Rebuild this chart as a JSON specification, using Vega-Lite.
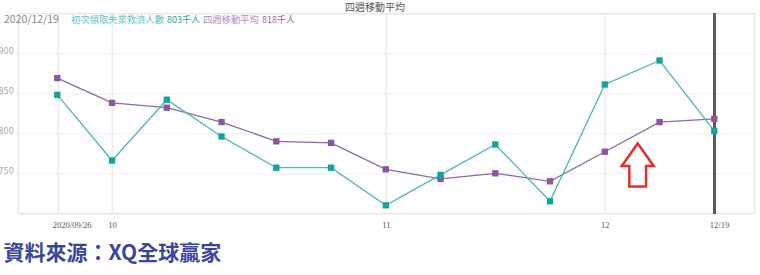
{
  "$schema": "https://vega.github.io/schema/vega-lite/v6.json",
  "width": 736.6,
  "height": 200,
  "autosize": {"type": "none"},
  "padding": {"left": 17.7, "top": 13.3, "right": 5.7, "bottom": 61.7},
  "background": "white",
  "config": {"view": {"stroke": "#dcdcdc", "strokeWidth": 1}, "font": "Noto Sans CJK TC"},
  "data": {"values": [
    {"date": "2020-09-26", "series": "avg", "value": 869},
    {"date": "2020-10-03", "series": "avg", "value": 838},
    {"date": "2020-10-10", "series": "avg", "value": 832},
    {"date": "2020-10-17", "series": "avg", "value": 814},
    {"date": "2020-10-24", "series": "avg", "value": 790},
    {"date": "2020-10-31", "series": "avg", "value": 788},
    {"date": "2020-11-07", "series": "avg", "value": 755},
    {"date": "2020-11-14", "series": "avg", "value": 743},
    {"date": "2020-11-21", "series": "avg", "value": 750},
    {"date": "2020-11-28", "series": "avg", "value": 740},
    {"date": "2020-12-05", "series": "avg", "value": 777},
    {"date": "2020-12-12", "series": "avg", "value": 814},
    {"date": "2020-12-19", "series": "avg", "value": 818},
    {"date": "2020-09-26", "series": "claims", "value": 848},
    {"date": "2020-10-03", "series": "claims", "value": 766},
    {"date": "2020-10-10", "series": "claims", "value": 842},
    {"date": "2020-10-17", "series": "claims", "value": 796},
    {"date": "2020-10-24", "series": "claims", "value": 757},
    {"date": "2020-10-31", "series": "claims", "value": 757},
    {"date": "2020-11-07", "series": "claims", "value": 710},
    {"date": "2020-11-14", "series": "claims", "value": 748},
    {"date": "2020-11-21", "series": "claims", "value": 786},
    {"date": "2020-11-28", "series": "claims", "value": 715},
    {"date": "2020-12-05", "series": "claims", "value": 861},
    {"date": "2020-12-12", "series": "claims", "value": 891},
    {"date": "2020-12-19", "series": "claims", "value": 803},
    {"title": "四週移動平均"},
    {"label": "2020/12/19"},
    {"label": "初次領取失業救濟人數"},
    {"label": "803千人"},
    {"label": "四週移動平均"},
    {"label": "818千人"},
    {"label": "arrow"}
  ]},
  "layer": [
    {
      "transform": [{"filter": "datum.series != null"}],
      "layer": [
        {
          "mark": {"type": "rule", "color": "#5a5a5a", "strokeWidth": 2.5},
          "encoding": {"x": {"datum": {"year": 2020, "month": 12, "date": 19, "utc": true}, "type": "temporal"}}
        },
        {
          "mark": {"type": "line", "strokeWidth": 1.3},
          "encoding": {
            "x": {"field": "date", "type": "temporal"},
            "y": {"field": "value", "type": "quantitative"},
            "stroke": {"field": "series", "type": "nominal", "scale": {"domain": ["avg", "claims"], "range": ["#8d6a9f", "#4cb8b0"]}, "legend": null},
            "order": {"field": "date", "type": "temporal"}
          }
        },
        {
          "mark": {"type": "point", "shape": "square", "filled": true, "size": 40, "opacity": 1},
          "encoding": {
            "x": {"field": "date", "type": "temporal"},
            "y": {"field": "value", "type": "quantitative"},
            "fill": {"field": "series", "type": "nominal", "scale": {"domain": ["avg", "claims"], "range": ["#8b56a0", "#14a39a"]}, "legend": null}
          }
        }
      ]
    },
    {
      "transform": [{"filter": "datum.title != null"}],
      "mark": {"type": "text", "align": "center", "baseline": "middle", "fontSize": 10, "color": "#555555"},
      "encoding": {"x": {"datum": {"year": 2020, "month": 11, "date": 5, "hours": 14, "minutes": 54, "utc": true}, "type": "temporal"}, "y": {"datum": 956.6, "type": "quantitative"}, "text": {"field": "title"}}
    },
    {
      "transform": [{"filter": "datum.label == '2020/12/19'"}],
      "mark": {"type": "text", "align": "left", "baseline": "middle", "fontSize": 10.5, "color": "#888888"},
      "encoding": {"x": {"datum": {"year": 2020, "month": 9, "date": 19, "hours": 4, "minutes": 26, "utc": true}, "type": "temporal"}, "y": {"datum": 941.6, "type": "quantitative"}, "text": {"field": "label"}}
    },
    {
      "transform": [{"filter": "datum.label == '初次領取失業救濟人數'"}],
      "mark": {"type": "text", "align": "left", "baseline": "middle", "fontSize": 9.3, "color": "#5cc4bd"},
      "encoding": {"x": {"datum": {"year": 2020, "month": 9, "date": 27, "hours": 18, "minutes": 3, "utc": true}, "type": "temporal"}, "y": {"datum": 941.6, "type": "quantitative"}, "text": {"field": "label"}}
    },
    {
      "transform": [{"filter": "datum.label == '803千人'"}],
      "mark": {"type": "text", "align": "left", "baseline": "middle", "fontSize": 9, "color": "#24a59c"},
      "encoding": {"x": {"datum": {"year": 2020, "month": 10, "date": 10, "hours": 0, "minutes": 37, "utc": true}, "type": "temporal"}, "y": {"datum": 941.6, "type": "quantitative"}, "text": {"field": "label"}}
    },
    {
      "transform": [{"filter": "datum.label == '四週移動平均'"}],
      "mark": {"type": "text", "align": "left", "baseline": "middle", "fontSize": 9.3, "color": "#b48ec4"},
      "encoding": {"x": {"datum": {"year": 2020, "month": 10, "date": 14, "hours": 15, "minutes": 7, "utc": true}, "type": "temporal"}, "y": {"datum": 941.6, "type": "quantitative"}, "text": {"field": "label"}}
    },
    {
      "transform": [{"filter": "datum.label == '818千人'"}],
      "mark": {"type": "text", "align": "left", "baseline": "middle", "fontSize": 9, "color": "#9464aa"},
      "encoding": {"x": {"datum": {"year": 2020, "month": 10, "date": 22, "hours": 4, "minutes": 5, "utc": true}, "type": "temporal"}, "y": {"datum": 941.6, "type": "quantitative"}, "text": {"field": "label"}}
    },
    {
      "transform": [{"filter": "datum.label == 'arrow'"}],
      "mark": {"type": "point", "shape": "M0,-1 L0.744,0.047 L0.39,0.047 L0.39,1 L-0.39,1 L-0.39,0.047 L-0.744,0.047 Z", "size": 1849, "filled": false, "fill": "white", "fillOpacity": 1, "stroke": "#e2302c", "strokeWidth": 2.5, "opacity": 1, "strokeJoin": "miter"},
      "encoding": {"x": {"datum": {"year": 2020, "month": 12, "date": 9, "hours": 5, "minutes": 0, "utc": true}, "type": "temporal"}, "y": {"datum": 760.4, "type": "quantitative"}}
    }
  ],
  "resolve": {"scale": {"x": "shared", "y": "shared"}},
  "encoding": {
    "x": {
      "type": "temporal",
      "scale": {"type": "utc", "domain": [
        {"year": 2020, "month": 9, "date": 20, "hours": 22, "minutes": 30, "utc": true},
        {"year": 2020, "month": 12, "date": 24, "hours": 2, "minutes": 45, "utc": true}
      ]},
      "axis": {
        "title": "資料來源：XQ全球贏家",
        "titleFont": "Noto Sans CJK TC", "titleFontSize": 21, "titleFontWeight": "bold", "titleColor": "#3a469c",
        "titleAlign": "left", "titleAnchor": "start", "titleX": -14.7, "titleY": 40, "titleBaseline": "middle",
        "values": [
          {"year": 2020, "month": 9, "date": 26, "utc": true},
          {"year": 2020, "month": 10, "date": 3, "utc": true},
          {"year": 2020, "month": 11, "date": 7, "utc": true},
          {"year": 2020, "month": 12, "date": 5, "utc": true},
          {"year": 2020, "month": 12, "date": 19, "utc": true}
        ],
        "labelExpr": "utcFormat(datum.value,'%m%d')=='0926' ? '2020/09/26' : (utcFormat(datum.value,'%m%d')=='1219' ? '12/19' : utcFormat(datum.value,'%-m'))",
        "labelFont": "Liberation Serif", "labelFontSize": 8.5, "labelColor": "#555555",
        "labelAlign": {"condition": {"test": "utcFormat(datum.value,'%m%d')=='0926' || utcFormat(datum.value,'%m%d')=='1219'", "value": "left"}, "value": "center"},
        "labelOffset": {"condition": {"test": "utcFormat(datum.value,'%m%d')=='0926' || utcFormat(datum.value,'%m%d')=='1219'", "value": -5}, "value": 0},
        "labelPadding": 7, "ticks": false, "domain": false, "grid": true, "gridColor": "#e3e3e3",
        "labelFlush": false, "labelOverlap": false
      }
    },
    "y": {
      "type": "quantitative",
      "scale": {"domain": [700, 950], "nice": false, "zero": false},
      "axis": {"title": null, "values": [750, 800, 850, 900], "ticks": false, "domain": false,
        "labelColor": "#aaaaaa", "labelFontSize": 8, "labelFont": "DejaVu Sans", "labelPadding": 4.4,
        "labelBaseline": "alphabetic", "gridColor": "#eeeeee"}
    }
  }
}
